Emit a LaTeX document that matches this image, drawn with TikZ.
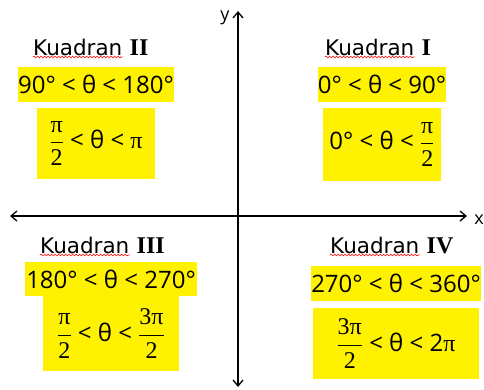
\documentclass[tikz,border=0pt]{standalone}
\usepackage{fontspec}
\setmainfont{Open Sans}
\newfontfamily\serif{Liberation Serif}
\newfontfamily\titlefont{DejaVu Sans}
\usetikzlibrary{arrows.meta,decorations.pathmorphing}
\newcommand{\fr}[2]{$\displaystyle\frac{\hbox{\serif #1}}{\hbox{\serif #2}}$}
\tikzset{
  kword/.style={font=\titlefont\fontsize{21.5}{24}\selectfont, inner sep=0pt, anchor=base west},
  knum/.style={font=\serif\bfseries\fontsize{24}{26}\selectfont, inner sep=0pt, anchor=base west},
  ybox/.style={fill=yellow, inner sep=0pt, font=\fontsize{24}{28}\selectfont},
  axis/.style={line width=1.3pt, -{Straight Barb[length=6pt,width=10pt,line width=1.3pt]}},
  spell/.style={red, line width=0.6pt, decorate, decoration={snake, amplitude=0.9pt, segment length=3.5pt}},
  lbl/.style={font=\fontsize{18}{20}\selectfont, inner sep=0pt}
}
\begin{document}
\begin{tikzpicture}[x=1pt,y=-1pt]
\useasboundingbox (0,0) rectangle (484,389);
% axes
\coordinate (o) at (238,216);
\coordinate (xl) at (10,216);
\coordinate (xr) at (467,216);
\coordinate (yt) at (238,11);
\coordinate (yb) at (238,387);
\draw[axis] (o) -- (xr);
\draw[axis] (o) -- (xl);
\draw[axis] (o) -- (yt);
\draw[axis] (o) -- (yb);
\node[lbl] (ylab) at (225,18) {y};
\node[lbl] (xlab) at (479,220) {x};
% Quadrant II
\node[kword] (k2) at (33,55) {Kuadran};
\node[knum, xshift=7pt] (n2) at (k2.base east) {II};
\draw[spell] ([yshift=-1.5pt]k2.south west) -- ([yshift=-1.5pt]k2.south east);
\node[ybox, minimum width=150pt, minimum height=35pt] (a2) at (96,84.5) {90° < θ < 180°};
\node[ybox, minimum width=118pt, minimum height=71pt] (b2) at (96,143.5) {\fr{π}{2} < θ < {\serif π}};
% Quadrant I
\node[kword] (k1) at (325,55) {Kuadran};
\node[knum, xshift=7pt] (n1) at (k1.base east) {I};
\draw[spell] ([yshift=-1.5pt]k1.south west) -- ([yshift=-1.5pt]k1.south east);
\node[ybox, minimum width=126pt, minimum height=35pt] (a1) at (382,84.5) {0° < θ < 90°};
\node[ybox, minimum width=118pt, minimum height=73pt] (b1) at (382,144.5) {0° < θ < \fr{π}{2}};
% Quadrant III
\node[kword] (k3) at (40,253) {Kuadran};
\node[knum, xshift=7pt] (n3) at (k3.base east) {III};
\draw[spell] ([yshift=-1.5pt]k3.south west) -- ([yshift=-1.5pt]k3.south east);
\node[ybox, minimum width=172pt, minimum height=34pt] (a3) at (111,279) {180° < θ < 270°};
\node[ybox, minimum width=136pt, minimum height=75pt] (b3) at (111,333.5) {\fr{π}{2} < θ < \fr{3π}{2}};
% Quadrant IV
\node[kword] (k4) at (330,253) {Kuadran};
\node[knum, xshift=7pt] (n4) at (k4.base east) {IV};
\draw[spell] ([yshift=-1.5pt]k4.south west) -- ([yshift=-1.5pt]k4.south east);
\node[ybox, minimum width=170pt, minimum height=35pt] (a4) at (396,283.5) {270° < θ < 360°};
\node[ybox, minimum width=166pt, minimum height=71pt] (b4) at (396,343.5) {\fr{3π}{2} < θ < 2{\serif π}};
\end{tikzpicture}
\end{document}
